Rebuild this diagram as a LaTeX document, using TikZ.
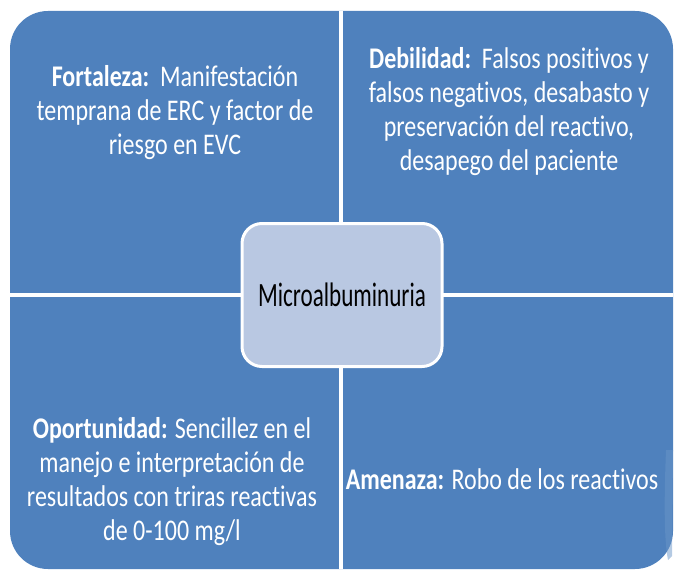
\documentclass[tikz,border=0pt]{standalone}
\usepackage{fontspec}
\setmainfont[Ligatures=NoCommon]{Carlito}
\newfontfamily\cfont[FakeStretch=0.8,Ligatures=NoCommon]{Carlito}
\newfontfamily\mfont[FakeStretch=0.68,Ligatures=NoCommon]{Carlito}
\definecolor{swotblue}{HTML}{4F81BD}
\definecolor{curlblue}{HTML}{6A95C8}
\definecolor{centerfill}{HTML}{B9C8E2}
\tikzset{
  quadtext/.style={align=center, text=white, inner sep=0pt,
    font=\cfont\fontsize{30}{34}\selectfont},
  centerbox/.style={draw=white, line width=3pt, fill=centerfill,
    rounded corners=20pt, minimum width=200pt, minimum height=143pt,
    font=\mfont\fontsize{34}{40}\selectfont, text=black, inner sep=0pt},
  divider/.style={white, line width=4pt}
}
\begin{document}
\begin{tikzpicture}[x=1pt,y=-1pt]
\useasboundingbox (0,0) rectangle (676,572);
\fill[swotblue, rounded corners=38pt] (10,11) rectangle (673,569);
\fill[curlblue, opacity=0.5] (666,450) .. controls (664,500) and (664,540) .. (668,560) -- (672,556) -- (673,450) -- cycle;
\coordinate (vt) at (341,11);
\coordinate (vb) at (341,569);
\coordinate (hl) at (10,295);
\coordinate (hr) at (673,295);
\draw[divider] (vt) -- (vb);
\draw[divider] (hl) -- (hr);
\node[centerbox] (c) at (342,295) {Microalbuminuria};
\node[quadtext] (f) at (175,113) {\textbf{Fortaleza:}\ \ Manifestación\\temprana de ERC y factor de\\riesgo en EVC};
\node[quadtext] (d) at (509,112) {\textbf{Debilidad:}\ \ Falsos positivos y\\falsos negativos, desabasto y\\preservación del reactivo,\\desapego del paciente};
\node[quadtext] (o) at (172,482) {\textbf{Oportunidad:} Sencillez en el\\manejo e interpretación de\\resultados con triras reactivas\\de 0-100 mg/l};
\node[quadtext] (a) at (502,479) {\textbf{Amenaza:} Robo de los reactivos};
\end{tikzpicture}
\end{document}
